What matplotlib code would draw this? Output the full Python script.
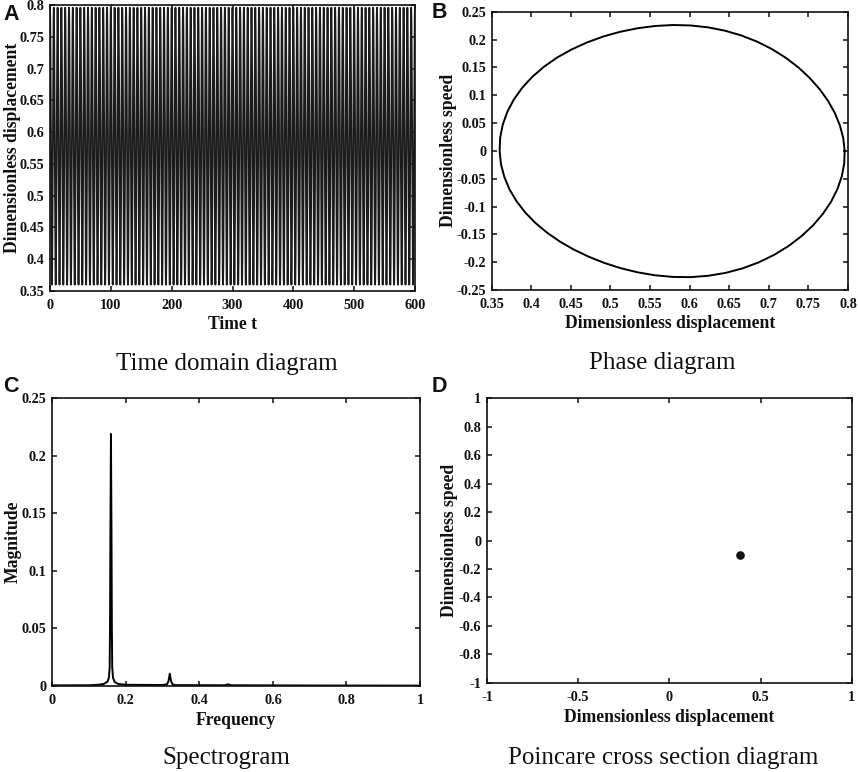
import numpy as np
import matplotlib
matplotlib.use("Agg")
import matplotlib.pyplot as plt

plt.rcParams['font.family'] = ['Liberation Serif', 'DejaVu Serif']

W, H = 858, 772
INK = '#111111'

# Panel B: closed orbit (displacement, speed)
orbit_x = [.7958,.7940,.7898,.7834,.7748,.7642,.7516,.7373,.7213,.7039,.6852,.6654,.6446,.6231,.6010,
           .5787,.5562,.5339,.5119,.4906,.4701,.4507,.4326,.4161,.4014,.3887,.3781,.3698,.3640,.3607,
           .3600,.3617,.3660,.3726,.3815,.3925,.4054,.4201,.4363,.4539,.4727,.4925,.5132,.5345,.5564,
           .5787,.6010,.6233,.6453,.6667,.6873,.7067,.7248,.7413,.7559,.7684,.7787,.7866,.7921,.7952,.7958]
orbit_v = [-.0001,.0228,.0455,.0679,.0897,.1108,.1310,.1499,.1673,.1828,.1962,.2073,.2159,.2219,.2253,
           .2261,.2243,.2202,.2138,.2053,.1946,.1820,.1676,.1512,.1332,.1136,.0926,.0704,.0473,.0237,
           -.0002,-.0239,-.0471,-.0695,-.0908,-.1110,-.1298,-.1472,-.1631,-.1775,-.1903,-.2015,-.2109,-.2183,-.2236,
           -.2265,-.2269,-.2245,-.2193,-.2112,-.2003,-.1869,-.1711,-.1532,-.1338,-.1130,-.0912,-.0688,-.0460,-.0231,-.0001]

# Panel A: the same cycle traversed repeatedly over the record
n_cycles = 96
t_end = 600

# Panel C: amplitude spectrum
freq = [0.000, 0.100, 0.125, 0.140, 0.150, 0.154, 0.156, 0.157, 0.158, 0.1595,
        0.161, 0.162, 0.163, 0.165, 0.170, 0.180, 0.200, 0.300, 0.312, 0.316,
        0.3195, 0.323, 0.327, 0.335, 0.470, 0.478, 0.486, 0.700, 1.000]
mag = [0.0003, 0.0004, 0.0008, 0.0015, 0.0035, 0.0070, 0.0160, 0.0500, 0.1300, 0.2190,
       0.1300, 0.0500, 0.0160, 0.0070, 0.0030, 0.0015, 0.0008, 0.0006, 0.0012, 0.0040,
       0.0105, 0.0040, 0.0012, 0.0005, 0.0004, 0.0012, 0.0004, 0.0002, 0.0001]

# Panel D: section point
section_x = [0.39]
section_v = [-0.10]

xticks_a = [0, 100, 200, 300, 400, 500, 600]
yticks_a = [0.35, 0.4, 0.45, 0.5, 0.55, 0.6, 0.65, 0.7, 0.75, 0.8]
xticks_b = [0.35, 0.4, 0.45, 0.5, 0.55, 0.6, 0.65, 0.7, 0.75, 0.8]
yticks_b = [-0.25, -0.2, -0.15, -0.1, -0.05, 0, 0.05, 0.1, 0.15, 0.2, 0.25]
xticks_c = [0, 0.2, 0.4, 0.6, 0.8, 1]
yticks_c = [0, 0.05, 0.1, 0.15, 0.2, 0.25]
xticks_d = [-1, -0.5, 0, 0.5, 1]
yticks_d = [-1, -0.8, -0.6, -0.4, -0.2, 0, 0.2, 0.4, 0.6, 0.8, 1]

fig = plt.figure(figsize=(W / 100, H / 100), dpi=100, facecolor='white')


def panel(l, r, t, b):
    ax = fig.add_axes([l / W, 1 - b / H, (r - l) / W, (b - t) / H])
    for s in ax.spines.values():
        s.set_linewidth(1.2)
        s.set_color(INK)
    ax.tick_params(direction='in', length=3.5, width=1.1, top=True, right=True,
                   labelsize=10.3, colors=INK)
    ax.tick_params(axis='x', pad=6)
    ax.tick_params(axis='y', pad=4)
    return ax


def fmt(v):
    return f'{v:g}'


def style(ax, xt, yt, xl, yl, xlim, ylim, xpad, ypad):
    ax.set_xlim(*xlim)
    ax.set_ylim(*ylim)
    ax.set_xticks(xt, [fmt(v) for v in xt], fontweight='bold')
    ax.set_yticks(yt, [fmt(v) for v in yt], fontweight='bold')
    ax.set_xlabel(xl, fontsize=12.7, fontweight='bold', labelpad=xpad, color=INK)
    ax.set_ylabel(yl, fontsize=12.7, fontweight='bold', labelpad=ypad, color=INK)


def fig_text(x, y, s, **kw):
    fig.text(x / W, 1 - y / H, s, ha='center', va='center', color=INK, **kw)


ax = panel(50, 415, 5, 291)
disp = np.tile(orbit_x[:-1], n_cycles)
ax.plot(np.linspace(0, t_end, disp.size, endpoint=False), disp, color='#1c1c1c', lw=1.3)
style(ax, xticks_a, yticks_a, 'Time t', 'Dimensionless displacement', (0, 600), (0.35, 0.8), 2.5, -1)

ax = panel(491.7, 848, 11.7, 290)
ax.plot(orbit_x, orbit_v, color='black', lw=1.4)
style(ax, xticks_b, yticks_b, 'Dimensionless displacement', 'Dimensionless speed', (0.35, 0.8), (-0.25, 0.25), 3, -0.5)

ax = panel(52.3, 420, 398.3, 685.7)
ax.plot(freq, mag, color='black', lw=1.4)
style(ax, xticks_c, yticks_c, 'Frequency', 'Magnitude', (0, 1), (0, 0.25), 3.5, 0.5)

ax = panel(487, 851.7, 398.3, 682.7)
ax.plot(section_x, section_v, 'o', color='#111111', ms=5.2)
style(ax, xticks_d, yticks_d, 'Dimensionless displacement', 'Dimensionless speed', (-1, 1), (-1, 1), 3.5, 0.5)

for x, y, s in [(227, 364, 'Time domain diagram'), (662, 363, 'Phase diagram'),
                (226, 758, 'Spectrogram'), (663, 758, 'Poincare cross section diagram')]:
    fig_text(x, y, s, fontsize=18)

for x, y, s in [(11, 14, 'A'), (439, 13, 'B'), (11, 386, 'C'), (439, 386, 'D')]:
    fig_text(x, y, s, fontsize=15.5, fontweight='bold', family='Liberation Sans')

fig.savefig('out.png', dpi=100, facecolor='white')
